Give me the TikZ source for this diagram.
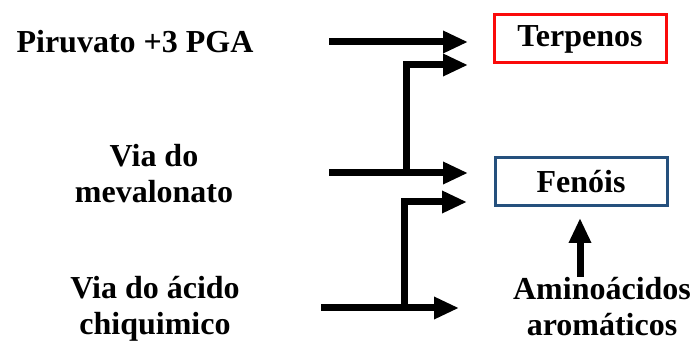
\documentclass[tikz,border=0pt]{standalone}
\usepackage{fontspec}
\setmainfont{Liberation Serif}
\usepackage{xcolor}
\usetikzlibrary{arrows.meta}
\definecolor{cred}{RGB}{250,10,10}
\definecolor{cblue}{RGB}{37,80,125}

\begin{document}
\begin{tikzpicture}[x=0.75pt, y=-0.75pt,
      label/.style={font=\fontsize{24}{27}\selectfont\bfseries, align=center, inner sep=0pt},
      product/.style={draw, line width=2.25pt, minimum width=129pt, minimum height=36pt,
                      font=\fontsize{24}{27}\selectfont\bfseries, inner sep=0pt},
      arrow/.style={-{Triangle[length=18.75pt, width=15.75pt]}, line width=5.25pt, line join=miter}
    ]
    \useasboundingbox (0,0) rectangle (697,342);
    % sources
    \node[label] (pir) at (135,42) {Piruvato +3 PGA};
    \node[label] (mev) at (154,174) {Via do\\mevalonato};
    \node[label] (chi) at (155,309) {Via do ácido\\chiquimico};
    % products
    \node[product, draw=cred] (ter) at (580,39) {Terpenos};
    \node[product, draw=cblue] (fen) at (581,181.5) {Fenóis};
    \node[label] (ami) at (602,307) {Aminoácidos\\aromáticos};
    % arrow ends
    \coordinate (p0) at (329,42);
    \coordinate (p1) at (468,42);
    \coordinate (m0) at (329,173);
    \coordinate (m1) at (468,173);
    \coordinate (m2) at (406,173);
    \coordinate (t2) at (468,65);
    \coordinate (c0) at (321,308);
    \coordinate (c1) at (459,308);
    \coordinate (c2) at (404,308);
    \coordinate (f2) at (467,202);
    \coordinate (a0) at (580,277);
    \coordinate (a1) at (580,218);
    \draw[arrow] (p0) -- (p1);
    \draw[arrow] (m0) -- (m1);
    \draw[arrow] (m2) |- (t2);
    \draw[arrow] (c0) -- (c1);
    \draw[arrow] (c2) |- (f2);
    \draw[arrow] (a0) -- (a1);
  \end{tikzpicture}
\end{document}
